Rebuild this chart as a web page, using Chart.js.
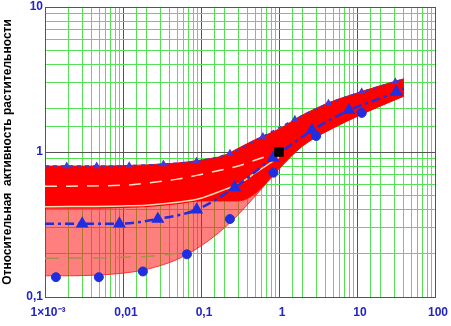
<!DOCTYPE html>
<html lang="ru">
<head>
<meta charset="UTF-8">
<title>Относительная активность растительности</title>
<script src="https://cdn.jsdelivr.net/npm/chart.js"></script>
<style>
  body { margin: 0; background: #fff; }
</style>
</head>
<body>
<canvas id="chart" width="451" height="326"></canvas>
<script>
  // envelope of the red family of curves
  const bandX     = [0.001, 0.002, 0.005, 0.01, 0.02, 0.05, 0.1, 0.2, 0.3, 0.5, 1, 2, 5, 10, 20, 40];
  const bandTop   = [0.80, 0.80, 0.80, 0.805, 0.815, 0.84, 0.88, 0.95, 1.06, 1.22, 1.44, 1.8, 2.25, 2.55, 2.87, 3.2];
  const bandSolid = [0.41, 0.41, 0.41, 0.415, 0.42, 0.44, 0.46, 0.46, 0.46, 0.52, 0.77, 1.1, 1.47, 1.76, 2.08, 2.43];
  const bandLow   = [0.14, 0.14, 0.142, 0.146, 0.155, 0.182, 0.225, 0.3, 0.37, 0.5, 0.76, 1.1, 1.47, 1.76, 2.08, 2.43];

  // light lines inside the band
  const innerX  = [0.001, 0.01, 0.02, 0.05, 0.1, 0.2, 0.3, 0.5, 1];
  const centreY = [0.58, 0.59, 0.61, 0.65, 0.70, 0.76, 0.80, 0.88, 1.0];
  const paleY   = [0.42, 0.425, 0.43, 0.45, 0.48, 0.55, 0.60, 0.72, 0.92];
  const oliveX  = [0.001, 0.005, 0.02, 0.05];
  const oliveY  = [0.185, 0.186, 0.19, 0.2];

  // blue markers
  const upX  = [0.001, 0.0019, 0.0046, 0.012, 0.033, 0.088, 0.235, 0.62, 1.6, 4.3, 11.5, 31, 40];
  const upY  = [0.80, 0.80, 0.80, 0.805, 0.825, 0.865, 0.98, 1.28, 1.68, 2.17, 2.6, 3.05, 3.2];
  const midX = [0.001, 0.003, 0.009, 0.028, 0.088, 0.27, 0.84, 2.65, 7.9, 32, 40];
  const midY = [0.32, 0.32, 0.32, 0.345, 0.40, 0.57, 0.91, 1.41, 1.94, 2.59, 2.75];
  const dotX = [0.00138, 0.0049, 0.018, 0.066, 0.235, 0.85, 3.0, 11.5];
  const dotY = [0.137, 0.137, 0.15, 0.197, 0.345, 0.72, 1.29, 1.86];
  const refX = [1];
  const refY = [1];

  const xTickVals = [0.001, 0.01, 0.1, 1, 10, 100];
  const xTickText = ['1×10⁻³', '0,01', '0,1', '1', '10', '100'];
  const yTickVals = [0.1, 1, 10];
  const yTickText = ['0,1', '1', '10'];

  const blue = '#1f2fe0';
  const tickBlue = '#2323c8';

  function pts(xs, ys) {
    return xs.map((x, i) => ({ x: x, y: ys[i] }));
  }
  function isDecade(v) {
    const l = Math.log10(v);
    return Math.abs(l - Math.round(l)) < 1e-6;
  }
  function tickText(v, vals, text) {
    const i = vals.findIndex(t => Math.abs(Math.log10(t) - Math.log10(v)) < 1e-6);
    return i < 0 ? '' : text[i];
  }
  function gridColor(ctx) {
    if (!ctx.tick) return '#55e055';
    return isDecade(ctx.tick.value) ? '#555555' : '#55e055';
  }
  // hide the marker on the first/last point of a line
  function endsHidden(xs, r) {
    return xs.map((x, i) => (i === 0 || i === xs.length - 1) ? 0 : r);
  }

  const tickFont = { family: 'Arial, "Liberation Sans", sans-serif', size: 12, weight: 'bold' };

  new Chart(document.getElementById('chart'), {
    type: 'line',
    data: {
      datasets: [
        { data: pts(bandX, bandTop), borderColor: '#ff0000', borderWidth: 1, backgroundColor: '#ff0000',
          fill: '+1', pointRadius: 0, cubicInterpolationMode: 'monotone', order: 10 },
        { data: pts(bandX, bandSolid), borderColor: '#ff0000', borderWidth: 1, backgroundColor: 'rgba(255,20,20,0.55)',
          fill: '+1', pointRadius: 0, cubicInterpolationMode: 'monotone', order: 11 },
        { data: pts(bandX, bandLow), borderColor: 'rgba(255,30,30,0.85)', borderWidth: 1,
          fill: false, pointRadius: 0, cubicInterpolationMode: 'monotone', order: 12 },
        { data: pts(oliveX, oliveY), borderColor: '#a8904a', borderWidth: 1.5, borderDash: [14, 10],
          fill: false, pointRadius: 0, order: 5 },
        { data: pts(innerX, paleY), borderColor: '#ffd9b0', borderWidth: 1.5,
          fill: false, pointRadius: 0, cubicInterpolationMode: 'monotone', order: 5 },
        { data: pts(innerX, centreY), borderColor: 'rgba(255,235,215,0.95)', borderWidth: 1.5, borderDash: [12, 9],
          fill: false, pointRadius: 0, cubicInterpolationMode: 'monotone', order: 5 },
        { data: pts(upX, upY), borderColor: '#3a3ad0', borderWidth: 1.5, borderDash: [4, 4],
          pointStyle: 'triangle', pointRadius: endsHidden(upX, 3), pointBackgroundColor: '#4a3ad0',
          pointBorderColor: '#4a3ad0', fill: false, cubicInterpolationMode: 'monotone', order: 2 },
        { data: pts(midX, midY), borderColor: blue, borderWidth: 2.5, borderDash: [9, 4, 3, 4],
          pointStyle: 'triangle', pointRadius: endsHidden(midX, 5), pointBackgroundColor: blue,
          pointBorderColor: blue, fill: false, cubicInterpolationMode: 'monotone', order: 1 },
        { data: pts(dotX, dotY), showLine: false, pointStyle: 'circle', pointRadius: 4.5,
          pointBackgroundColor: blue, pointBorderColor: blue, order: 1 },
        { data: pts(refX, refY), showLine: false, pointStyle: 'rect', pointRadius: 6,
          pointBackgroundColor: '#000', pointBorderColor: '#000', order: 0 }
      ]
    },
    options: {
      responsive: false,
      devicePixelRatio: 1,
      animation: false,
      layout: { padding: { top: 5, right: 16, bottom: 0, left: 0 } },
      plugins: { legend: { display: false }, tooltip: { enabled: false } },
      scales: {
        x: {
          type: 'logarithmic', min: 0.001, max: 100,
          grid: { color: gridColor, lineWidth: 1, drawTicks: false },
          border: { color: '#555555' },
          ticks: { autoSkip: false, maxRotation: 0, minRotation: 0, padding: 8, labelOffset: 3,
                   color: tickBlue, font: tickFont,
                   callback: v => tickText(v, xTickVals, xTickText) },
          afterFit: s => { s.height = 29; s.paddingLeft = 0; s.paddingRight = 0; }
        },
        y: {
          type: 'logarithmic', min: 0.1, max: 10,
          grid: { color: gridColor, lineWidth: 1, drawTicks: false },
          border: { color: '#555555' },
          ticks: { autoSkip: false, padding: 2, color: tickBlue, font: tickFont,
                   callback: v => tickText(v, yTickVals, yTickText) },
          title: { display: true, text: 'Относительная  активность растительности', color: '#000',
                   font: { family: 'Arial, "Liberation Sans", sans-serif', size: 12, weight: 'bold' },
                   padding: 0 },
          afterFit: s => { s.width = 45; s.paddingTop = 0; s.paddingBottom = 0; }
        }
      }
    }
  });
</script>
</body>
</html>
